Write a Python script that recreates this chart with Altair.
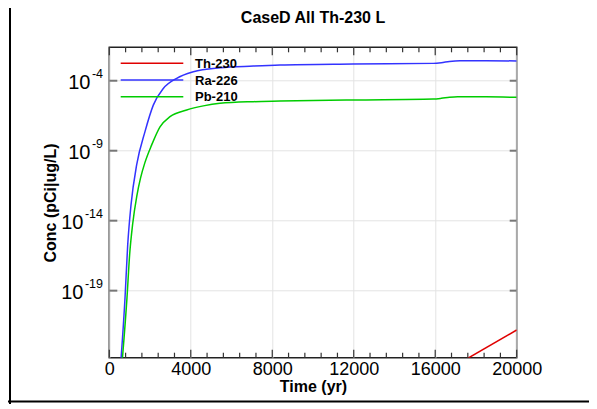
import altair as alt
import pandas as pd

title_text = "CaseD All Th-230 L"
x_title = "Time (yr)"
y_title = "Conc (pCi|ug/L)"

series_names = ["Th-230", "Ra-226", "Pb-210"]
series_colors = ["#e00000", "#3333ff", "#00cc00"]

th_time = [17400, 20000]
th_conc = [1.0e-24, 1.55e-22]

ra_time = [570, 771, 903, 1065, 1345, 1752, 2160, 2651, 3309, 4124, 5434, 7070, 8380,
           11960, 15900, 16300, 16700, 17217, 18500, 20000]
ra_conc = [1.0e-24, 2.9e-20, 1.8e-16, 1.3e-13, 1.0e-10, 2.3e-8, 1.8e-6, 2.8e-5, 1.5e-4,
           4.4e-4, 8.5e-4, 1.12e-3, 1.32e-3, 1.55e-3, 1.74e-3, 1.95e-3, 2.4e-3, 2.7e-3,
           2.7e-3, 2.6e-3]

pb_time = [635, 869, 1000, 1147, 1350, 1532, 1740, 2081, 2489, 2980, 3800, 4615, 5434,
           7070, 8380, 11980, 15900, 16300, 16700, 17100, 18500, 20000]
pb_conc = [1.0e-24, 3.2e-20, 4.0e-17, 5.8e-15, 5.8e-13, 1.1e-11, 1.3e-10, 2.6e-9, 5.1e-8,
           2.7e-7, 8.1e-7, 1.6e-6, 2.45e-6, 3.2e-6, 3.5e-6, 4.2e-6, 4.9e-6, 5.5e-6,
           6.6e-6, 7.2e-6, 7.1e-6, 6.5e-6]

x_major = [0, 4000, 8000, 12000, 16000, 20000]
x_minor = [800, 1600, 2400, 3200, 4800, 5600, 6400, 7200, 8800, 9600, 10400, 11200,
           12800, 13600, 14400, 15200, 16800, 17600, 18400, 19200]
y_major = [1e-4, 1e-9, 1e-14, 1e-19]
y_exp = ["-4", "-9", "-14", "-19"]
y_domain = [1.62e-24, 2.45e-2]

W, H = 407.4, 310.4
FONT = "Liberation Sans"

rows = []
for name, ts, cs in [("Th-230", th_time, th_conc), ("Ra-226", ra_time, ra_conc), ("Pb-210", pb_time, pb_conc)]:
    for t, c in zip(ts, cs):
        rows.append({"series": name, "t": t, "c": c})
df = pd.DataFrame(rows)

xs = alt.Scale(domain=[0, 20000], nice=False, zero=False)
ys = alt.Scale(type="log", domain=y_domain, nice=False)

x_axis = alt.Axis(values=x_major, grid=True, gridColor="#e3e3e3", ticks=False,
                  domain=False, labelFontSize=18, labelFont=FONT, labelColor="#000",
                  labelPadding=3, labelFlush=False, format="d",
                  title=x_title, titleFont=FONT, titleFontSize=16,
                  titleFontWeight="bold", titleColor="#000", titleY=34,
                  titleBaseline="alphabetic")
y_axis = alt.Axis(values=y_major, grid=True, gridColor="#e3e3e3", ticks=False,
                  domain=False, labels=False,
                  title=y_title, titleFont=FONT, titleFontSize=16,
                  titleFontWeight="bold", titleColor="#000", titleX=-54,
                  titleBaseline="alphabetic")
xsc = alt.X("t:Q", scale=xs, axis=x_axis)
ysc = alt.Y("c:Q", scale=ys, axis=y_axis)

lines = alt.Chart(df).mark_line(strokeWidth=1.5, clip=True, interpolate="monotone").encode(
    x=xsc, y=ysc,
    color=alt.Color("series:N", scale=alt.Scale(domain=series_names, range=series_colors), legend=None),
    detail="series:N",
)

dmaj = pd.DataFrame({"t": x_major})
dmin = pd.DataFrame({"t": x_minor})
tick_col = "#333"
bot_major = alt.Chart(dmaj).mark_rule(color=tick_col, strokeWidth=1.2).encode(x=xsc, y=alt.value(H), y2=alt.value(H - 8))
bot_minor = alt.Chart(dmin).mark_rule(color=tick_col, strokeWidth=1.2).encode(x=xsc, y=alt.value(H), y2=alt.value(H - 5))
top_major = alt.Chart(dmaj).mark_rule(color=tick_col, strokeWidth=1.2).encode(x=xsc, y=alt.value(0), y2=alt.value(8))
top_minor = alt.Chart(dmin).mark_rule(color=tick_col, strokeWidth=1.2).encode(x=xsc, y=alt.value(0), y2=alt.value(5))

dy_ = pd.DataFrame({"c": y_major, "e": y_exp})
left_t = alt.Chart(dy_).mark_rule(color="#777", strokeWidth=2).encode(y=ysc, x=alt.value(0), x2=alt.value(8))
right_t = alt.Chart(dy_).mark_rule(color="#777", strokeWidth=2).encode(y=ysc, x=alt.value(W), x2=alt.value(W - 7))

lab10 = alt.Chart(dy_).transform_calculate(
    lx="-7.3 - (length(datum.e) - 1) * 7.0 - 4.6"
).mark_text(text="10", align="right", baseline="alphabetic", fontSize=20, font=FONT, dy=8, color="#000").encode(
    y=ysc, x=alt.X("lx:Q", scale=None))
labexp = alt.Chart(dy_).mark_text(align="right", baseline="alphabetic", fontSize=12.5, font=FONT, dy=-3, color="#000").encode(
    y=ysc, x=alt.value(-6.3), text="e:N")

title_mark = alt.Chart(pd.DataFrame({"n": [title_text]})).mark_text(
    align="center", baseline="alphabetic", fontSize=16, fontWeight="bold", font=FONT, color="#000").encode(
    x=alt.value(W / 2), y=alt.value(-24), text="n:N")

leg_layers = []
for i, (nm, col) in enumerate(zip(series_names, series_colors)):
    yy = 16 + 16.7 * i
    leg_layers.append(alt.Chart(pd.DataFrame({"n": [nm]})).mark_rule(color=col, strokeWidth=1.5).encode(
        x=alt.value(11.4), x2=alt.value(74), y=alt.value(yy)))
    leg_layers.append(alt.Chart(pd.DataFrame({"n": [nm]})).mark_text(
        align="left", baseline="middle", fontSize=13, fontWeight="bold", font=FONT, color="#000").encode(
        x=alt.value(85.7), y=alt.value(yy + 0.5), text="n:N"))

frame_v = alt.Chart(pd.DataFrame({"a": [0]})).mark_rule(color="#000", strokeWidth=2).encode(
    x=alt.value(-99.3), y=alt.value(-48), y2=alt.value(H + 60))
frame_h = alt.Chart(pd.DataFrame({"a": [0]})).mark_rule(color="#000", strokeWidth=2).encode(
    x=alt.value(-110), x2=alt.value(500), y=alt.value(354.2))

chart = alt.layer(
    lines, bot_major, bot_minor, top_major, top_minor, left_t, right_t, lab10, labexp,
    title_mark, *leg_layers, frame_v, frame_h
).properties(
    width=W, height=H,
    autosize=alt.AutoSizeParams(type="none"),
    padding={"left": 101.3, "top": 39.3, "right": 72.3, "bottom": 46.3},
).configure_view(stroke="#222", strokeWidth=1.5)

chart.save("out.html", embed_options={"renderer": "svg", "actions": False})
